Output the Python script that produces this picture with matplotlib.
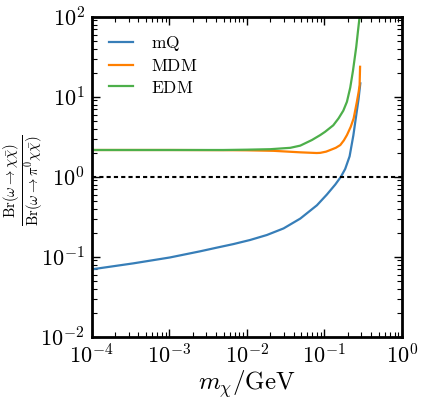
import matplotlib
matplotlib.use("Agg")
import matplotlib.pyplot as plt
from matplotlib.ticker import LogLocator, NullFormatter

plt.rcParams['mathtext.fontset'] = 'cm'
plt.rcParams['font.family'] = 'serif'
plt.rcParams['font.serif'] = ['cmr10', 'DejaVu Serif']
plt.rcParams['axes.formatter.use_mathtext'] = True

# data
mq_x = [1e-4, 3.44e-4, 1.02e-3, 2.5e-3, 4.1e-3, 6.7e-3, 0.011, 0.0181, 0.0297,
        0.0488, 0.08, 0.1076, 0.138, 0.163, 0.185, 0.211, 0.236, 0.257, 0.275, 0.29]
mq_y = [0.0696, 0.0827, 0.098, 0.117, 0.13, 0.144, 0.162, 0.187, 0.226,
        0.30, 0.44, 0.60, 0.80, 1.0, 1.25, 1.8, 3.3, 5.9, 9.3, 14.7]

mdm_x = [1e-4, 1e-3, 5e-3, 0.01, 0.022, 0.0488, 0.0795, 0.0883, 0.105, 0.119,
         0.14, 0.16, 0.178, 0.195, 0.218, 0.238, 0.262, 0.276, 0.284, 0.288]
mdm_y = [2.16, 2.16, 2.15, 2.14, 2.11, 2.02, 1.98, 1.99, 2.06, 2.16,
         2.3, 2.49, 2.85, 3.32, 4.2, 5.37, 8.66, 11.5, 14.0, 23.7]

edm_x = [1e-4, 1e-3, 5e-3, 0.01, 0.02, 0.0363, 0.0488, 0.069, 0.0883, 0.102,
         0.13, 0.152, 0.175, 0.195, 0.215, 0.233, 0.257, 0.27, 0.284, 0.295]
edm_y = [2.16, 2.16, 2.16, 2.18, 2.21, 2.3, 2.45, 2.88, 3.32, 3.65,
         4.4, 5.37, 6.7, 8.66, 13.0, 21.0, 42.0, 65.0, 100.0, 150.0]

ref_y = 1.0

fig = plt.figure(figsize=(4.23, 3.99), dpi=100)
ax = fig.add_axes([0.2168, 0.156, 0.7336, 0.802])

ax.plot(mq_x, mq_y, color='#377eb8', lw=1.6, label=r'$\mathrm{mQ}$')
ax.plot(mdm_x, mdm_y, color='#ff7f00', lw=1.6, label=r'$\mathrm{MDM}$')
ax.plot(edm_x, edm_y, color='#4daf4a', lw=1.6, label=r'$\mathrm{EDM}$')
ax.axhline(ref_y, color='k', lw=1.5, dashes=(2, 1.5))

ax.set_xscale('log')
ax.set_yscale('log')
ax.set_xlim(1e-4, 1)
ax.set_ylim(1e-2, 1e2)

for a in (ax.xaxis, ax.yaxis):
    a.set_minor_locator(LogLocator(base=10, subs=range(2, 10), numticks=20))
    a.set_minor_formatter(NullFormatter())

ax.tick_params(which='both', direction='in', top=True, right=True, labelsize=16)
ax.tick_params(which='major', length=5.5, width=1.0, pad=5)
ax.tick_params(which='minor', length=3.5, width=0.8)
for s in ax.spines.values():
    s.set_linewidth(2.0)

ax.set_xlabel(r'$m_\chi/\mathrm{GeV}$', fontsize=18, labelpad=0)
ax.set_ylabel(r'$\frac{\mathrm{Br}(\omega\to\chi\bar{\chi})}{\mathrm{Br}(\omega\to\pi^0\chi\bar{\chi})}$',
              fontsize=15)
ax.yaxis.set_label_coords(-0.15, 0.49)

ax.legend(loc='upper left', frameon=False, fontsize=12.5, handlelength=1.4,
          handletextpad=1.0, labelspacing=0.3, borderaxespad=0.6)

fig.savefig('out.png', dpi=100)
